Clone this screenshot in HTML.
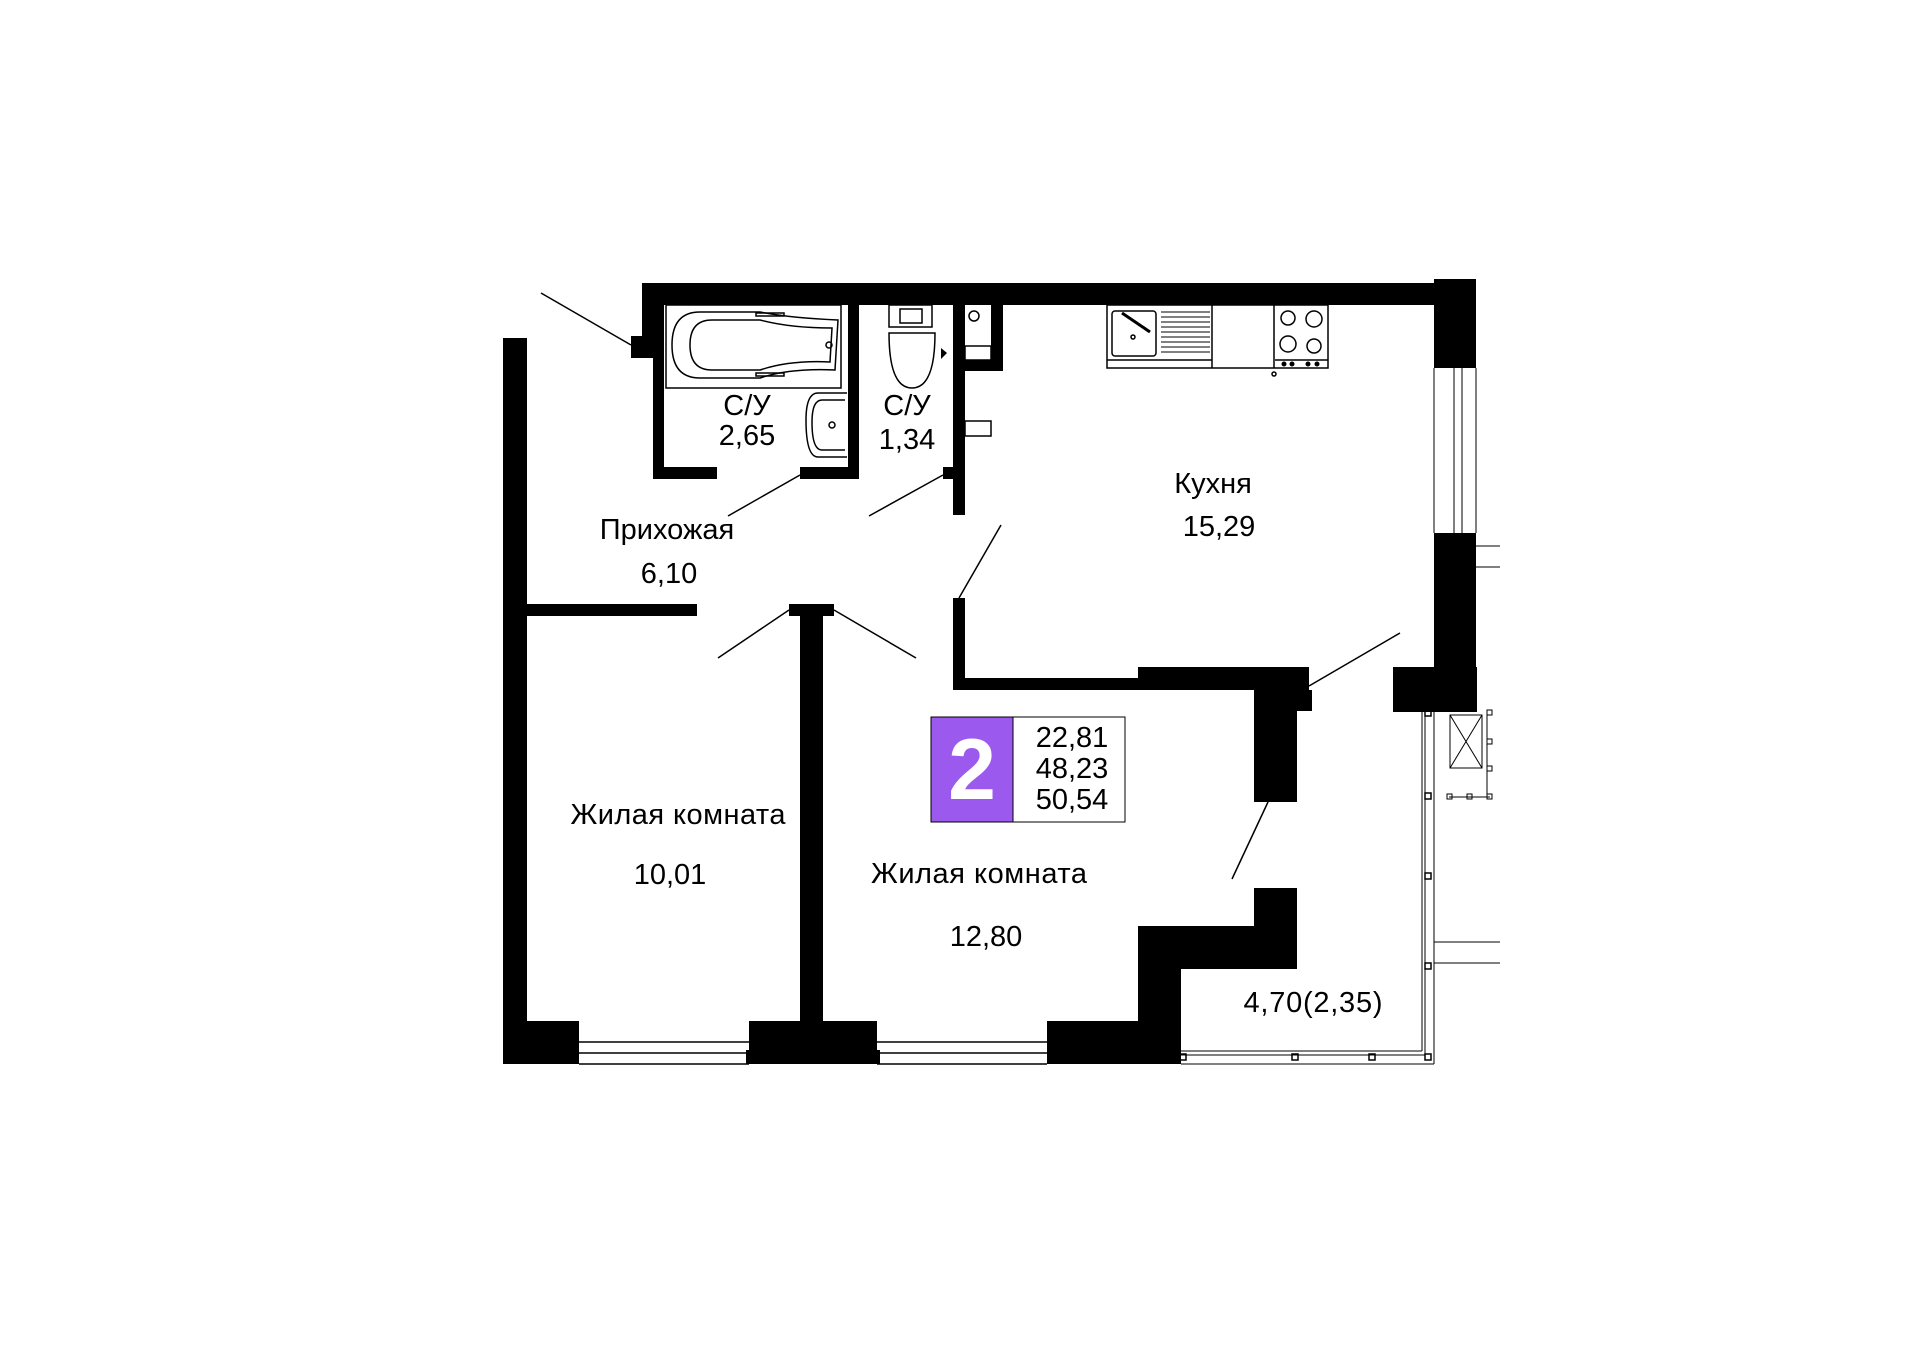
<!DOCTYPE html>
<html><head><meta charset="utf-8"><style>
html,body{margin:0;padding:0;background:#fff;}
svg{display:block;}
text{font-family:"Liberation Sans","DejaVu Sans",sans-serif;fill:#000;}
</style></head><body>
<svg width="1920" height="1357" viewBox="0 0 1920 1357" xmlns="http://www.w3.org/2000/svg">
<rect width="1920" height="1357" fill="#fff"/>
<g fill="#000">
<rect x="642" y="283" width="792" height="22"/>
<rect x="1434" y="279" width="42" height="89"/>
<rect x="642" y="283" width="22" height="53"/>
<rect x="631" y="336" width="33" height="22"/>
<rect x="653" y="358" width="11" height="121"/>
<rect x="653" y="467" width="64" height="12"/>
<rect x="800" y="467" width="59" height="12"/>
<rect x="848" y="305" width="11" height="174"/>
<rect x="953" y="300" width="12" height="215"/>
<rect x="943" y="467" width="10" height="12"/>
<rect x="991" y="283" width="12" height="88"/>
<rect x="953" y="360" width="50" height="11"/>
<polygon points="941,348 947,353 941,359"/>
<rect x="503" y="338" width="24" height="726"/>
<rect x="527" y="604" width="170" height="12"/>
<rect x="789" y="604" width="45" height="12"/>
<rect x="800" y="616" width="23" height="405"/>
<rect x="503" y="1021" width="76" height="43"/>
<rect x="749" y="1021" width="128" height="43"/>
<rect x="746" y="1050" width="134" height="14"/>
<rect x="1047" y="1021" width="134" height="43"/>
<rect x="953" y="598" width="12" height="92"/>
<rect x="953" y="678" width="185" height="12"/>
<rect x="1138" y="667" width="171" height="23"/>
<rect x="1254" y="690" width="58" height="21"/>
<rect x="1254" y="711" width="43" height="91"/>
<rect x="1254" y="888" width="43" height="81"/>
<rect x="1138" y="926" width="159" height="43"/>
<rect x="1138" y="926" width="43" height="138"/>
<rect x="1434" y="533" width="42" height="178"/>
<rect x="1393" y="667" width="84" height="45"/>
</g>
<g fill="none" stroke="#000" stroke-width="1.5">
<rect x="965" y="421" width="26" height="15"/>
<circle cx="974" cy="316" r="5"/>
<rect x="965" y="346" width="26" height="14"/>
<line x1="541" y1="293" x2="631" y2="345"/>
<line x1="728" y1="516" x2="800" y2="475"/>
<line x1="869" y1="516" x2="943" y2="475"/>
<line x1="1001" y1="525" x2="959" y2="598"/>
<line x1="718" y1="658" x2="789" y2="610"/>
<line x1="834" y1="610" x2="916" y2="658"/>
<line x1="1400" y1="633" x2="1309" y2="686"/>
<line x1="1232" y1="879" x2="1268" y2="802"/>
<line x1="579" y1="1042" x2="749" y2="1042"/>
<line x1="579" y1="1053" x2="749" y2="1053"/>
<line x1="579" y1="1064" x2="749" y2="1064"/>
<line x1="877" y1="1042" x2="1047" y2="1042"/>
<line x1="877" y1="1053" x2="1047" y2="1053"/>
<line x1="877" y1="1064" x2="1047" y2="1064"/>
</g>
<g fill="none" stroke="#000" stroke-width="1">
<line x1="1434" y1="368" x2="1434" y2="533"/>
<line x1="1454" y1="368" x2="1454" y2="533"/>
<line x1="1462" y1="368" x2="1462" y2="533"/>
<line x1="1476" y1="368" x2="1476" y2="533"/>
<line x1="1476" y1="546" x2="1500" y2="546"/>
<line x1="1476" y1="567" x2="1500" y2="567"/>
<line x1="1422" y1="711" x2="1422" y2="1051"/>
<line x1="1425" y1="711" x2="1425" y2="1055"/>
<line x1="1434" y1="711" x2="1434" y2="1064"/>
<line x1="1181" y1="1051" x2="1422" y2="1051"/>
<line x1="1181" y1="1055" x2="1425" y2="1055"/>
<line x1="1181" y1="1064" x2="1434" y2="1064"/>
<line x1="1434" y1="942" x2="1500" y2="942"/>
<line x1="1434" y1="963" x2="1500" y2="963"/>
<rect x="1450" y="715" width="32" height="53"/>
<line x1="1450" y1="715" x2="1482" y2="768"/>
<line x1="1482" y1="715" x2="1450" y2="768"/>
<line x1="1487" y1="713" x2="1487" y2="797"/>
<line x1="1449" y1="797" x2="1490" y2="797"/>
<rect x="1487" y="710" width="5" height="5"/>
<rect x="1487" y="739" width="5" height="5"/>
<rect x="1487" y="766" width="5" height="5"/>
<rect x="1487" y="794" width="5" height="5"/>
<rect x="1447" y="794" width="5" height="5"/>
<rect x="1467" y="794" width="5" height="5"/>
</g>
<g fill="none" stroke="#000" stroke-width="1.5">
<rect x="1425" y="710" width="6" height="6"/>
<rect x="1425" y="793" width="6" height="6"/>
<rect x="1425" y="873" width="6" height="6"/>
<rect x="1425" y="963" width="6" height="6"/>
<rect x="1425" y="1054" width="6" height="6"/>
<rect x="1180" y="1054" width="6" height="6"/>
<rect x="1292" y="1054" width="6" height="6"/>
<rect x="1369" y="1054" width="6" height="6"/>
<rect x="666" y="305" width="175" height="83"/>
<path d="M700,312 Q672,312 672,345 Q672,378 700,378 L760,378 Q790,368 835,370 L838,320 Q790,318 760,312 Z"/>
<path d="M712,320 Q690,320 690,345 Q690,370 712,370 L760,370 Q790,360 830,362 L832,328 Q790,328 760,320 Z"/>
<circle cx="829" cy="345" r="3"/>
<rect x="756" y="313" width="28" height="3"/>
<rect x="756" y="373" width="28" height="3"/>
<path d="M847,393 L818,393 Q806,393 806,420 Q806,457 818,457 L847,457"/>
<path d="M845,400 L822,400 Q812,400 812,422 Q812,450 822,450 L845,450"/>
<circle cx="832" cy="425" r="3"/>
<rect x="889" y="305" width="43" height="22"/>
<rect x="900" y="309" width="22" height="14"/>
<path d="M889,333 L935,333 Q935,388 912,388 Q889,388 889,333 Z"/>
<rect x="1107" y="305" width="221" height="63"/>
<line x1="1107" y1="360" x2="1212" y2="360"/>
<rect x="1112" y="311" width="44" height="45" rx="3"/>
<line x1="1122" y1="313" x2="1150" y2="332" stroke-width="3"/>
<circle cx="1133" cy="337" r="2"/>
<line x1="1212" y1="305" x2="1212" y2="368"/>
<line x1="1274" y1="305" x2="1274" y2="368"/>
<line x1="1275" y1="360" x2="1328" y2="360"/>
<circle cx="1288" cy="318" r="7"/>
<circle cx="1314" cy="319" r="8"/>
<circle cx="1288" cy="344" r="8"/>
<circle cx="1314" cy="346" r="7"/>
<circle cx="1274" cy="374" r="2"/>
</g>
<g stroke="#000" stroke-width="1">
<line x1="1161" y1="312" x2="1210" y2="312"/><line x1="1161" y1="317" x2="1210" y2="317"/>
<line x1="1161" y1="322" x2="1210" y2="322"/><line x1="1161" y1="327" x2="1210" y2="327"/>
<line x1="1161" y1="332" x2="1210" y2="332"/><line x1="1161" y1="337" x2="1210" y2="337"/>
<line x1="1161" y1="342" x2="1210" y2="342"/><line x1="1161" y1="347" x2="1210" y2="347"/>
<line x1="1161" y1="352" x2="1210" y2="352"/>
</g>
<g fill="#000">
<circle cx="1284" cy="364" r="2.5"/><circle cx="1292" cy="364" r="2.5"/>
<circle cx="1308" cy="364" r="2.5"/><circle cx="1317" cy="364" r="2.5"/>
</g>
<rect x="931" y="717" width="82" height="105" fill="#9b59ee" stroke="#000" stroke-width="1"/>
<rect x="1013" y="717" width="112" height="105" fill="#fff" stroke="#000" stroke-width="1"/>
<text x="972" y="799" font-size="86" font-weight="bold" text-anchor="middle" style="fill:#fff">2</text>
<g font-size="29" text-anchor="middle">
<text x="1072" y="747">22,81</text>
<text x="1072" y="778">48,23</text>
<text x="1072" y="809">50,54</text>
</g>
<g font-size="29" text-anchor="middle">
<text x="747" y="415">С/У</text>
<text x="747" y="445">2,65</text>
<text x="907" y="415">С/У</text>
<text x="907" y="449">1,34</text>
<text x="667" y="539">Прихожая</text>
<text x="669" y="583">6,10</text>
<text x="1213" y="493">Кухня</text>
<text x="1219" y="536">15,29</text>
<text x="678" y="824" textLength="215">Жилая комната</text>
<text x="670" y="884">10,01</text>
<text x="979" y="883" textLength="216">Жилая комната</text>
<text x="986" y="946">12,80</text>
<text x="1313" y="1012" textLength="139">4,70(2,35)</text>
</g>
</svg>
</body></html>
